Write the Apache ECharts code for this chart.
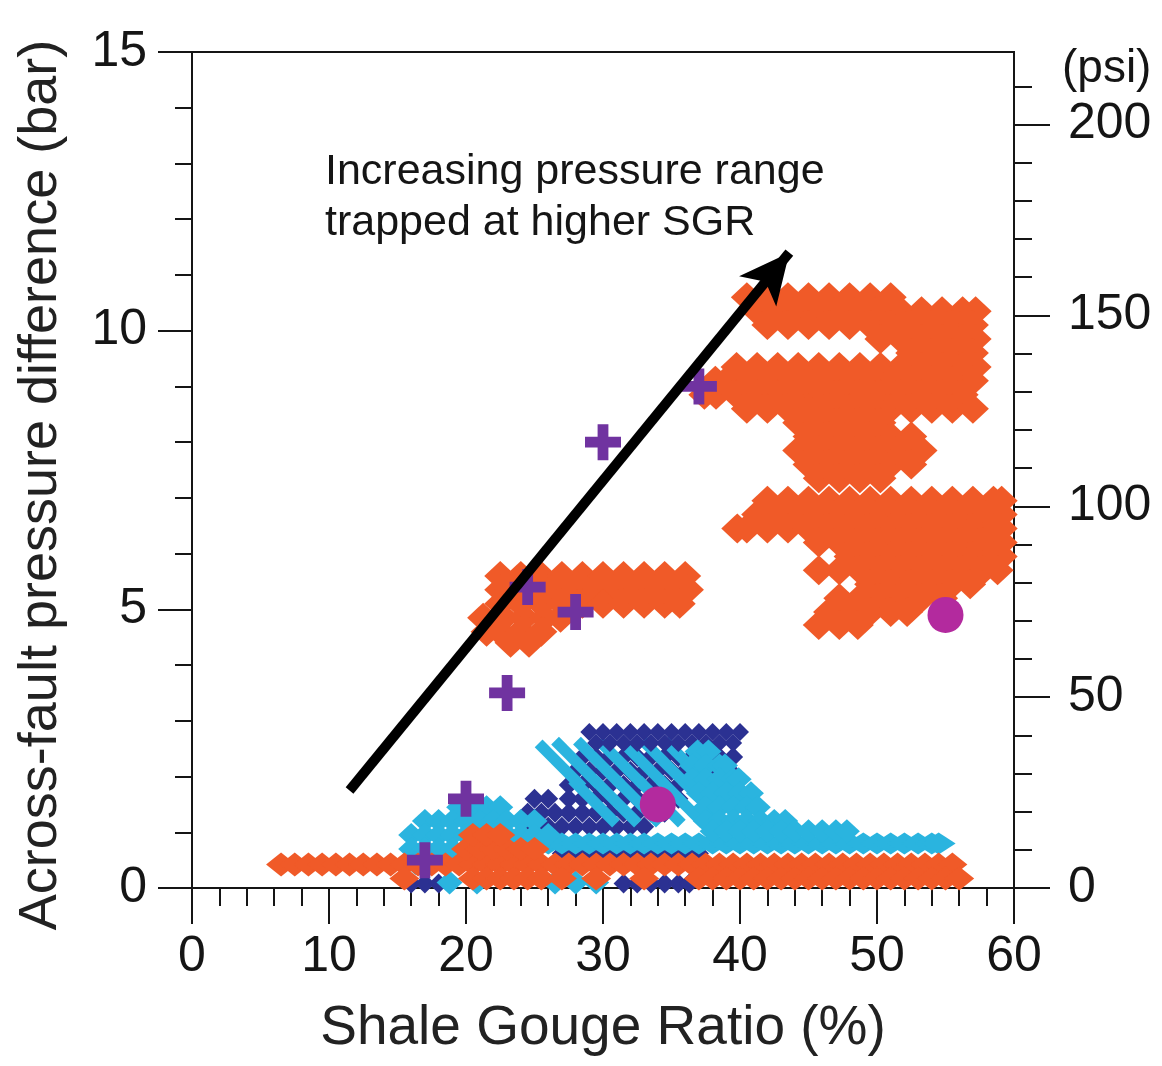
<!DOCTYPE html>
<html>
<head>
<meta charset="utf-8">
<style>
  html, body { margin: 0; padding: 0; background: #fff; }
  #chart { width: 1162px; height: 1066px; }
</style>
<script src="https://cdn.jsdelivr.net/npm/echarts@6/dist/echarts.min.js"></script>
</head>
<body>
<div id="chart"></div>
<script>
// axis ticks
const sgrTicks = [0, 10, 20, 30, 40, 50, 60];
const barTicks = [0, 5, 10, 15];
const psiMax = 219;
const psiLabels = [0, 50, 100, 150, 200];
const psiMinor = [0, 10, 20, 30, 40, 50, 60, 70, 80, 90, 100, 110, 120, 130, 140, 150, 160, 170, 180, 190, 200, 210];

// texts
const xTitle = 'Shale Gouge Ratio (%)';
const yTitle = 'Across-fault pressure difference (bar)';
const noteLines = ['Increasing pressure range', 'trapped at higher SGR'];

// clouds, rows of [y, [x...]]
const orangeUpperRows = [
  [10.6, [40.5, 42, 43.5, 45, 46.5, 48, 49.5, 51]],
  [10.35, [41.25, 42.75, 44.25, 45.75, 47.25, 48.75, 50.25, 51.75, 53.25, 54.75, 56.25, 57.2]],
  [10.1, [42, 43.5, 45, 46.5, 48, 49.5, 51, 52.5, 54, 55.5, 57]],
  [9.85, [50.25, 51.75, 53.25, 54.75, 56.25, 57.2]],
  [9.6, [52.5, 54, 55.5, 57]],
  [9.35, [39.75, 41.25, 42.75, 44.25, 45.75, 47.25, 48.75, 50.25, 51.75, 53.25, 54.75, 56.25, 57.2]],
  [9.1, [38.2, 39, 40.5, 42, 43.5, 45, 46.5, 48, 49.5, 51, 52.5, 54, 55.5, 57]],
  [8.85, [37.4, 38.25, 39.75, 41.25, 42.75, 44.25, 45.75, 47.25, 48.75, 50.25, 51.75, 53.25, 54.75, 56.25]],
  [8.6, [40.5, 42, 43.5, 45, 46.5, 48, 49.5, 51, 52.5, 54, 55.5, 57]],
  [8.35, [44.25, 45.75, 47.25, 48.75, 50.25]],
  [8.1, [45, 46.5, 48, 49.5, 51, 52.5]],
  [7.85, [44.25, 45.75, 47.25, 48.75, 50.25, 51.75, 53.25]],
  [7.6, [45, 46.5, 48, 49.5, 51, 52.5]],
  [7.35, [45.75, 47.25, 48.75, 50.25]],
  [6.95, [42, 43.5, 45, 46.5, 48, 49.5, 51, 52.5, 54, 55.5, 57, 58.5, 59.1]],
  [6.7, [41.25, 42.75, 44.25, 45.75, 47.25, 48.75, 50.25, 51.75, 53.25, 54.75, 56.25, 57.75, 59.1]],
  [6.45, [39.8, 40.5, 42, 43.5, 45, 46.5, 48, 49.5, 51, 52.5, 54, 55.5, 57, 58.5, 59.1]],
  [6.2, [45.75, 47.25, 48.75, 50.25, 51.75, 53.25, 54.75, 56.25, 57.75, 59.1]],
  [5.95, [48, 49.5, 51, 52.5, 54, 55.5, 57, 58.5, 59.1]],
  [5.7, [45.75, 47.25, 48.75, 50.25, 51.75, 53.25, 54.75, 56.25, 57.75, 58.8]],
  [5.45, [49.5, 51, 52.5, 54, 55.5, 56.8]],
  [5.2, [47.25, 48.75, 50.25, 51.75, 53.25, 54.75]],
  [4.95, [46.5, 48, 49.5, 51, 52.2]],
  [4.72, [45.75, 47.25, 48.6]]
];

const orangeMiddleRows = [
  [5.6, [22.5, 24, 25.5, 27, 28.5, 30, 31.5, 33, 34.5, 36]],
  [5.35, [22.5, 23.25, 24.75, 26.25, 27.75, 29.25, 30.75, 32.25, 33.75, 35.25, 36.2]],
  [5.1, [22.5, 24, 25.5, 27, 28.5, 30, 31.5, 33, 34.5, 35.6]],
  [4.85, [21.25, 22.75, 24.25, 25.75, 26.9]],
  [4.6, [21.5, 22.5, 24, 25.5]],
  [4.4, [23.25, 24.6]]
];

const orangeBottomRows = [
  [0.42, [6.5, 7.5, 8.5, 9.5, 10.5, 11.5, 12.5, 13.5, 14.5, 15.5, 16.5, 17.5, 18.5, 19.5, 20.5, 21.5, 22.5, 23.5, 24.5, 25.5, 26.5, 27.5, 28.5, 29.5, 30.5, 31.5, 32.5, 33.5, 34.5, 35.5, 36.5, 37.5, 38.5, 39.5, 40.5, 41.5, 42.5, 43.5, 44.5, 45.5, 46.5, 47.5, 48.5, 49.5, 50.5, 51.5, 52.5, 53.5, 54.5, 55.5]],
  [0.17, [15.5, 20.5, 21.5, 22.5, 23.5, 24.5, 25.5, 27, 29.5, 33, 37, 38, 39, 40, 41, 42, 43, 44, 45, 46, 47, 48, 49, 50, 51, 52, 53, 54, 55, 56]],
  [0.7, [20, 21, 22, 23, 24, 25]],
  [0.95, [20.5, 21.5, 22.5]]
];

const lightBandRows = [
  [0.8, [24, 25, 26, 27, 28, 29, 30, 31, 32, 33, 34, 35, 36, 37, 38, 39, 40, 41, 42, 43, 44, 45, 46, 47, 48, 49, 50, 51, 52, 53, 54, 54.5]]
];

const lightBlobRows = [
  // left hump
  [1.45, [19.5, 20.5, 21.5, 22.5]],
  [1.2, [17, 18, 19, 20, 21, 22, 23, 24, 25]],
  [0.95, [16, 17, 18, 19, 20, 21, 22, 23, 24, 25, 26]],
  [0.7, [16, 17, 18, 19]],
  [0.45, [16.3]],
  [0.1, [18.8, 20.8, 26.5, 28, 29.5]],
  // right blob
  [2.45, [36.9, 37.7]],
  [2.2, [36.5, 37.5, 38.5, 38.9]],
  [1.95, [36.5, 37.5, 38.5, 39.5, 39.9]],
  [1.7, [37, 38, 39, 40, 40.8]],
  [1.45, [37.5, 38.5, 39.5, 40.5, 41.3]],
  [1.2, [37.5, 38.5, 39.5, 40.5, 41.5, 42.5, 43.3]],
  [1.02, [38, 39, 40, 41, 42, 43, 44, 45, 46, 47, 47.8]]
];

// diagonal light stripes in the navy patch (segment centres)
const lightStripes = [
  [26.9, 2.2], [28.1, 2.25], [29.7, 2.25], [31.3, 2.25], [32.9, 2.25], [34.5, 2.25], [36.1, 2.25],
  [29.35, 1.55], [30.95, 1.55], [32.55, 1.55], [34.15, 1.55], [35.75, 1.55], [37.35, 1.55]
];

const navyRows = [
  [2.35, [28.5, 29.5, 30.5, 31.5, 32.5, 33.5, 34.5, 35.5, 36.5, 37.5, 38.5, 39.5]],
  [2.1, [28, 29, 30, 31, 32, 33, 34, 35, 36, 37, 38, 39.3]],
  [1.85, [27.5, 28.5, 29.5, 30.5, 31.5, 32.5, 33.5, 34.5, 35.5, 36.5]],
  [1.6, [25, 26, 27.5, 28.5, 29.5, 30.5, 31.5, 32.5, 33.5, 34.5, 35.5]],
  [1.35, [24.5, 25.5, 26.5, 27.5, 28.5, 29.5, 30.5, 31.5, 32.5, 33.5, 34.5]],
  [1.1, [25, 26, 27, 28, 29, 30, 31, 32, 33]],
  [0.62, [27, 28, 29, 30, 31, 32, 33, 34, 35, 36, 37]],
  [0.08, [16, 17, 18, 31.5, 32.5, 33.5, 34.5, 35.5, 36.3]]
];
const navyTopRows = [
  [2.8, [29, 30, 31, 32, 33, 34, 35, 36, 37, 38, 39, 40]],
  [2.6, [29.5, 30.5, 31.5, 32.5, 33.5, 34.5, 35.5, 36.5, 37.5, 38.5, 39.5]]
];

const crossPoints = [[17, 0.5], [20, 1.6], [23, 3.5], [24.5, 5.4], [28, 4.95], [30, 8], [37, 9]];
const circlePoints = [[55, 4.9], [34, 1.5]];
const arrowStart = [11.5, 1.75];
const arrowEnd = [43.6, 11.4];

function rowsToPoints(rows) {
  const pts = [];
  rows.forEach(([y, xs]) => xs.forEach(x => pts.push([x, y])));
  return pts;
}

const FONT = '"Liberation Sans", Arial, Helvetica, sans-serif';
const INK = '#151515';
const ORANGE = '#f05a28';
const LIGHT = '#2ab4df';
const NAVY = '#2b3192';
const PLUS = 'path://M3.5,0 H6.5 V3.5 H10 V6.5 H6.5 V10 H3.5 V6.5 H0 V3.5 H3.5 Z';

function cloud(name, points, color, size, extra) {
  return Object.assign({
    name: name,
    type: 'scatter',
    data: points,
    symbol: 'diamond',
    symbolSize: size,
    itemStyle: { color: color, opacity: 1 },
    silent: true
  }, extra || {});
}

const chart = echarts.init(document.getElementById('chart'));

const axisLineStyle = { color: INK, width: 2 };

const option = {
  animation: false,
  backgroundColor: '#fff',
  grid: {
    left: 192, right: 148, top: 52, bottom: 178,
    show: true, borderColor: INK, borderWidth: 2, backgroundColor: 'transparent',
    outerBoundsMode: 'none'
  },
  xAxis: {
    type: 'value', min: 0, max: 60, interval: 10,
    axisLine: { show: true, onZero: false, lineStyle: axisLineStyle },
    axisTick: { show: true, length: 36, lineStyle: axisLineStyle },
    minorTick: { show: true, splitNumber: 5, length: 18, lineStyle: axisLineStyle },
    axisLabel: { fontSize: 50, margin: 44, color: INK, fontFamily: FONT, customValues: sgrTicks },
    splitLine: { show: false },
    minorSplitLine: { show: false },
    name: xTitle, nameLocation: 'middle', nameGap: 113,
    nameTextStyle: { fontSize: 55, color: '#222', fontFamily: FONT }
  },
  yAxis: [
    {
      type: 'value', min: 0, max: 15, interval: 5, position: 'left',
      axisLine: { show: true, onZero: false, lineStyle: axisLineStyle },
      axisTick: { show: true, length: 34, lineStyle: axisLineStyle },
      minorTick: { show: true, splitNumber: 5, length: 17, lineStyle: axisLineStyle },
      axisLabel: { fontSize: 50, margin: 45, color: INK, fontFamily: FONT, customValues: barTicks },
      splitLine: { show: false },
      name: yTitle, nameLocation: 'middle', nameGap: 124, nameRotate: 90,
      nameTextStyle: { fontSize: 54, color: '#222', fontFamily: FONT, padding: [0, 30, 0, 0] }
    },
    {
      type: 'value', min: 0, max: psiMax, position: 'right',
      axisLine: { show: true, onZero: false, lineStyle: axisLineStyle },
      axisTick: { show: true, length: 36, lineStyle: axisLineStyle, customValues: psiLabels },
      axisLabel: { fontSize: 50, margin: 54, color: INK, fontFamily: FONT, customValues: psiLabels },
      splitLine: { show: false }
    },
    {
      type: 'value', min: 0, max: psiMax, position: 'right',
      axisLine: { show: true, onZero: false, lineStyle: axisLineStyle },
      axisTick: { show: true, length: 18, lineStyle: axisLineStyle, customValues: psiMinor },
      axisLabel: { show: false },
      splitLine: { show: false }
    }
  ],
  graphic: [
    {
      type: 'text', left: 325, top: 147, z: 100,
      style: { text: noteLines.join('\n'), font: '43px ' + FONT, fill: INK, lineHeight: 51 }
    },
    {
      type: 'text', left: 1062, top: 46, z: 100,
      style: { text: '(psi)', font: '46px ' + FONT, fill: INK }
    }
  ],
  series: [
    cloud('navy', rowsToPoints(navyRows), NAVY, [20, 20]),
    cloud('light stripes', lightStripes, LIGHT, [11, 62], { symbol: 'rect', symbolRotate: 45 }),
    cloud('navy top', rowsToPoints(navyTopRows), NAVY, [18, 18]),
    cloud('light band', rowsToPoints(lightBandRows), LIGHT, [34, 22]),
    cloud('light blobs', rowsToPoints(lightBlobRows), LIGHT, [26, 24]),
    cloud('orange bottom', rowsToPoints(orangeBottomRows), ORANGE, [30, 24]),
    cloud('orange middle', rowsToPoints(orangeMiddleRows), ORANGE, [32, 30]),
    cloud('orange upper', rowsToPoints(orangeUpperRows), ORANGE, [32, 30]),
    {
      name: 'crosses', type: 'scatter', data: crossPoints, silent: true,
      symbol: PLUS, symbolSize: 36, itemStyle: { color: '#7033a0', opacity: 1 }
    },
    {
      name: 'circles', type: 'scatter', data: circlePoints, silent: true,
      symbol: 'circle', symbolSize: 36, itemStyle: { color: '#b32a9e', opacity: 1 }
    },
    {
      name: 'arrow', type: 'scatter', data: [], silent: true,
      markLine: {
        silent: true, animation: false,
        symbol: ['none', 'arrow'], symbolSize: [36, 50],
        lineStyle: { color: '#000', width: 10, type: 'solid' },
        label: { show: false },
        data: [[{ coord: arrowStart }, { coord: arrowEnd }]]
      }
    }
  ]
};

chart.setOption(option);
window.addEventListener('resize', () => chart.resize());
</script>
</body>
</html>
